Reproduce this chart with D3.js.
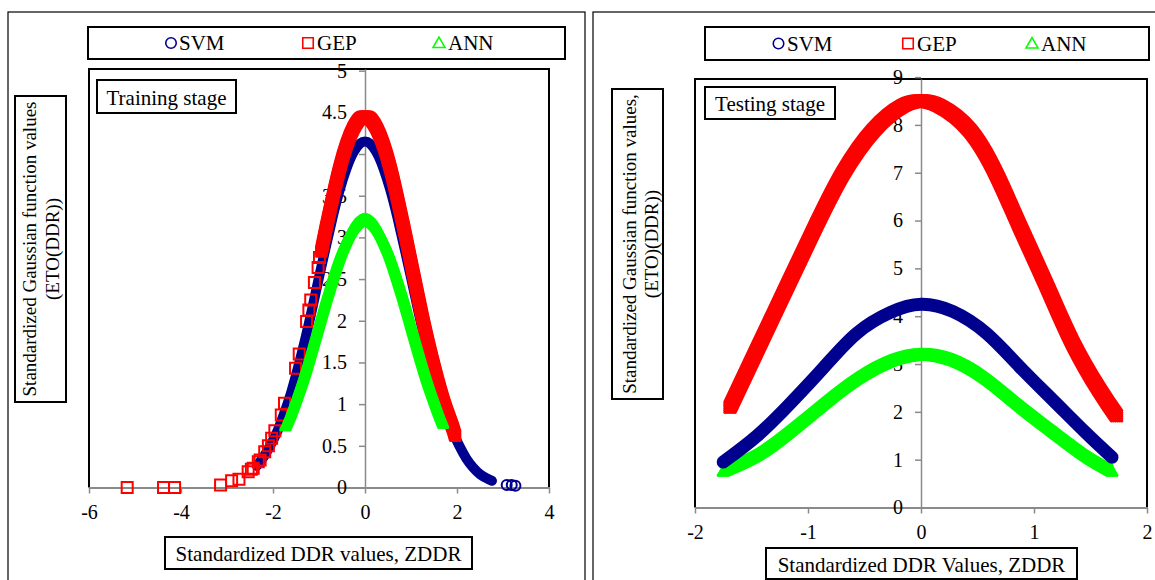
<!DOCTYPE html>
<html><head><meta charset="utf-8">
<script src="https://cdn.jsdelivr.net/npm/d3@7"></script>
<style>
body{margin:0;background:#fff}
svg{display:block}
text{font-family:"Liberation Serif","Times New Roman",serif;fill:#000}
</style>
</head><body>
<svg id="c" width="1155" height="580"></svg>
<script>
// ---------------- data ----------------
const seriesNames = ["SVM", "GEP", "ANN"];
const seriesColors = ["#00008f", "#ff0000", "#00ff00"];

const trainXTicks = [-6, -4, -2, 0, 2, 4];
const trainYTicks = [0, 0.5, 1, 1.5, 2, 2.5, 3, 3.5, 4, 4.5, 5];
const testXTicks = [-2, -1, 0, 1, 2];
const testYTicks = [0, 1, 2, 3, 4, 5, 6, 7, 8, 9];

// Training stage
const svmTrainZ = [-2.35,-2.2,-2.05,-1.9,-1.75,-1.6,-1.45,-1.3,-1.15,-1.0,-0.85,-0.7,-0.55,-0.4,-0.25,-0.1,0,0.1,0.25,0.4,0.55,0.7,0.85,1.0,1.15,1.3,1.45,1.6,1.75,1.9,2.05,2.2,2.35,2.5,2.65,2.76];
const svmTrainV = [0.26,0.37,0.51,0.68,0.90,1.15,1.45,1.78,2.14,2.52,2.89,3.25,3.57,3.83,4.02,4.13,4.15,4.13,4.02,3.83,3.57,3.25,2.89,2.52,2.14,1.78,1.45,1.15,0.90,0.68,0.50,0.35,0.24,0.16,0.11,0.08];
const svmTrainTailZ = [3.08, 3.19, 3.27];
const svmTrainTailV = [0.03, 0.03, 0.02];

const gepTrainZ = [-0.95,-0.85,-0.7,-0.55,-0.4,-0.25,-0.1,0,0.1,0.25,0.4,0.55,0.7,0.85,1.0,1.15,1.3,1.45,1.6,1.75,1.9,1.96];
const gepTrainV = [2.83,3.10,3.48,3.83,4.11,4.31,4.43,4.45,4.43,4.31,4.11,3.83,3.48,3.10,2.70,2.30,1.91,1.56,1.24,0.96,0.73,0.62];
const gepTrainDotZ = [-5.17,-4.38,-4.14,-3.14,-2.9,-2.74,-2.54,-2.47,-2.43,-2.32,-2.28,-2.18,-2.1,-2.03,-1.96,-1.82,-1.75,-1.51,-1.43,-1.27,-1.22,-1.18,-1.1,-1.02,-0.99];
const gepTrainDotV = [0,0,0,0.03,0.08,0.10,0.19,0.22,0.23,0.31,0.33,0.43,0.50,0.59,0.68,0.87,1.01,1.43,1.60,1.99,2.13,2.25,2.46,2.64,2.76];

const annTrainZ = [-1.73,-1.6,-1.45,-1.3,-1.15,-1.0,-0.85,-0.7,-0.55,-0.4,-0.25,-0.1,0,0.1,0.25,0.4,0.55,0.7,0.85,1.0,1.15,1.3,1.45,1.6,1.7];
const annTrainV = [0.72,0.89,1.12,1.37,1.65,1.94,2.23,2.50,2.75,2.95,3.10,3.18,3.20,3.18,3.10,2.95,2.75,2.50,2.23,1.94,1.65,1.37,1.12,0.89,0.75];

// Testing stage
const svmTestZ = [-1.75,-1.45,-1.16,-0.86,-0.57,-0.27,0,0.28,0.58,0.87,1.17,1.46,1.69];
const svmTestV = [0.95,1.50,2.17,2.93,3.64,4.08,4.25,4.10,3.64,2.95,2.24,1.56,1.05];
const gepTestZ = [-1.69,-1.45,-1.16,-0.92,-0.69,-0.42,-0.16,0,0.16,0.43,0.67,0.87,1.11,1.34,1.58,1.73];
const gepTestV = [2.1,3.30,4.75,5.94,6.99,7.89,8.40,8.50,8.40,7.89,6.95,5.90,4.65,3.45,2.45,1.92];
const annTestZ = [-1.75,-1.45,-1.16,-0.86,-0.57,-0.27,0,0.28,0.58,0.87,1.17,1.46,1.69];
const annTestV = [0.73,1.07,1.57,2.15,2.66,3.03,3.16,3.05,2.66,2.11,1.56,1.05,0.73];

// ---------------- drawing ----------------
const svg = d3.select("#c");
const AXIS_GRAY = "#8a8a8a";

function shapeOffsets(shape, size, t) {
  const offs = [];
  if (shape === "square") {
    const a = (size - t) / 2, n = 6;
    for (let i = 0; i < n; i++) for (let j = 0; j < n; j++)
      offs.push([-a + 2 * a * i / (n - 1), -a + 2 * a * j / (n - 1)]);
  } else if (shape === "triangle") {
    const h = size * Math.sqrt(3) / 2;
    const top = -2 * h / 3 + t / 2, bot = h / 3 - t / 2, rows = 6;
    for (let r = 0; r < rows; r++) {
      const yy = top + (bot - top) * r / (rows - 1);
      const half = Math.max(0, ((yy + 2 * h / 3) / h) * size / 2 - t / 2);
      const n = Math.max(1, Math.ceil(2 * half / 2.2) + 1);
      for (let k = 0; k < n; k++) offs.push([n === 1 ? 0 : -half + 2 * half * k / (n - 1), yy]);
    }
  }
  return offs;
}

function band(g, pts, x, y, shape, size, color) {
  const line = d3.line().x(d => x(d[0])).y(d => y(d[1])).curve(d3.curveNatural);
  const d = line(pts);
  if (shape === "circle") {
    g.append("path").attr("d", d).attr("fill", "none").attr("stroke", color)
      .attr("stroke-width", size).attr("stroke-linecap", "round").attr("stroke-linejoin", "round");
    return;
  }
  const t = 3.2;
  g.append("g").selectAll("path").data(shapeOffsets(shape, size, t)).join("path")
    .attr("d", d).attr("transform", o => `translate(${o[0]},${o[1]})`)
    .attr("fill", "none").attr("stroke", color).attr("stroke-width", t)
    .attr("stroke-linecap", "round").attr("stroke-linejoin", "round");
}

function markerPath(shape, size) {
  if (shape === "circle") return d3.symbol(d3.symbolCircle, Math.PI * size * size / 4)();
  if (shape === "square") return d3.symbol(d3.symbolSquare, size * size)();
  const h = size * Math.sqrt(3) / 2;
  return `M0,${-2*h/3}L${size/2},${h/3}L${-size/2},${h/3}Z`;
}

function hollowMarkers(g, pts, x, y, shape, size, color, sw) {
  g.append("g").selectAll("path").data(pts).join("path")
    .attr("d", markerPath(shape, size))
    .attr("transform", d => `translate(${x(d[0])},${y(d[1])})`)
    .attr("fill", "none").attr("stroke", color).attr("stroke-width", sw);
}

function boxText(g, bx, by, bw, bh, txt, size, tx, ty, anchor) {
  g.append("rect").attr("x", bx).attr("y", by).attr("width", bw).attr("height", bh)
    .attr("fill", "#fff").attr("stroke", "#000").attr("stroke-width", 2);
  g.append("text").attr("x", tx).attr("y", ty).attr("font-size", size)
    .attr("text-anchor", anchor).attr("dominant-baseline", "central").text(txt);
}

function panel(cfg) {
  const g = svg.append("g");
  g.append("rect").attr("x", cfg.outer[0]).attr("y", cfg.outer[1]).attr("width", cfg.outer[2]).attr("height", 700)
    .attr("fill", "none").attr("stroke", "#000").attr("stroke-width", 1.2);

  const x = d3.scaleLinear().domain(cfg.xDom).range([cfg.plot[0], cfg.plot[1]]);
  const y = d3.scaleLinear().domain(cfg.yDom).range([cfg.plot[3], cfg.plot[2]]);

  g.append("path")
    .attr("d", `M${cfg.plot[0]},${cfg.plot[3]}V${cfg.plot[2]}H${cfg.plot[1]}V${cfg.plot[3]}`)
    .attr("fill", "none").attr("stroke", "#000").attr("stroke-width", 2);

  const xa = g.append("g").attr("transform", `translate(0,${y(0)})`)
    .call(d3.axisBottom(x).tickValues(cfg.xTicks).tickFormat(d => String(d))
      .tickSize(6).tickSizeOuter(0).tickPadding(11));
  xa.select(".domain").attr("stroke", AXIS_GRAY).attr("stroke-width", 2);
  xa.selectAll(".tick line").attr("stroke", AXIS_GRAY).attr("stroke-width", 1.5);
  xa.selectAll(".tick text").attr("font-size", 20).attr("fill", "#000");
  xa.attr("font-family", null);

  const ya = g.append("g").attr("transform", `translate(${x(0)},0)`)
    .call(d3.axisLeft(y).tickValues(cfg.yTicks).tickFormat(d => String(d))
      .tickSize(6).tickSizeOuter(0).tickPadding(12));
  ya.select(".domain").attr("stroke", AXIS_GRAY).attr("stroke-width", 1.5);
  ya.selectAll(".tick line").attr("stroke", AXIS_GRAY).attr("stroke-width", 1.5);
  ya.selectAll(".tick text").attr("font-size", 20).attr("fill", "#000");
  ya.attr("font-family", null);

  const sg = g.append("g");
  cfg.draw(sg, x, y);

  const L = cfg.legend;
  g.append("rect").attr("x", L.box[0]).attr("y", L.box[1]).attr("width", L.box[2]).attr("height", L.box[3])
    .attr("fill", "#fff").attr("stroke", "#000").attr("stroke-width", 2);
  const shapes = ["circle", "square", "triangle"];
  seriesNames.forEach((nm, i) => {
    const cx = L.mx[i], cy = L.box[1] + L.box[3] / 2;
    g.append("path").attr("d", markerPath(shapes[i], shapes[i] === "triangle" ? 12 : 10.5))
      .attr("transform", `translate(${cx},${cy + (shapes[i] === "triangle" ? 1 : 0)})`)
      .attr("fill", "none").attr("stroke", seriesColors[i]).attr("stroke-width", 1.6);
    g.append("text").attr("x", L.tx[i]).attr("y", cy).attr("dominant-baseline", "central")
      .attr("font-size", 21).text(nm);
  });

  const S = cfg.stage;
  boxText(g, S.box[0], S.box[1], S.box[2], S.box[3], S.text, 21, S.box[0] + S.box[2] / 2, S.box[1] + S.box[3] / 2 + 1, "middle");

  const X = cfg.xlab;
  boxText(g, X.box[0], X.box[1], X.box[2], X.box[3], X.text, 21, X.box[0] + X.box[2] / 2, X.box[1] + X.box[3] / 2 + 1, "middle");

  const Y = cfg.ylab;
  g.append("rect").attr("x", Y.box[0]).attr("y", Y.box[1]).attr("width", Y.box[2]).attr("height", Y.box[3])
    .attr("fill", "#fff").attr("stroke", "#000").attr("stroke-width", 2);
  const cy = Y.box[1] + Y.box[3] / 2;
  Y.lines.forEach((ln, i) => {
    g.append("text").attr("transform", `translate(${Y.lx[i]},${cy}) rotate(-90)`)
      .attr("text-anchor", "middle").attr("dominant-baseline", "central")
      .attr("font-size", 19).text(ln);
  });
}

const zip = (a, b) => a.map((v, i) => [v, b[i]]);

panel({
  outer: [8, 12, 577],
  plot: [89, 549, 69, 487.5],
  xDom: [-6, 4], yDom: [0, 5.02],
  xTicks: trainXTicks, yTicks: trainYTicks,
  legend: { box: [88, 27, 477, 32], mx: [171, 308, 439], tx: [179, 317, 448] },
  stage: { box: [97, 80, 139, 33], text: "Training stage" },
  xlab: { box: [165, 537, 307, 32], text: "Standardized DDR values, ZDDR" },
  ylab: { box: [15, 96, 51, 306], lx: [29, 52], lines: ["Standardized Gaussian function values", "(ETO(DDR))"] },
  draw: (g, x, y) => {
    band(g, zip(svmTrainZ, svmTrainV), x, y, "circle", 10, seriesColors[0]);
    hollowMarkers(g, zip(svmTrainTailZ, svmTrainTailV), x, y, "circle", 10, seriesColors[0], 2);
    band(g, zip(gepTrainZ, gepTrainV), x, y, "square", 12.5, seriesColors[1]);
    hollowMarkers(g, zip(gepTrainDotZ, gepTrainDotV), x, y, "square", 11, seriesColors[1], 2);
    band(g, zip(annTrainZ, annTrainV), x, y, "triangle", 14, seriesColors[2]);
  }
});

panel({
  outer: [593, 12, 700],
  plot: [695, 1147, 79, 507.5],
  xDom: [-2, 2], yDom: [0, 8.96],
  xTicks: testXTicks, yTicks: testYTicks,
  legend: { box: [705, 27, 444, 33], mx: [778.5, 908, 1032], tx: [787, 917, 1041] },
  stage: { box: [705, 87, 130, 32], text: "Testing stage" },
  xlab: { box: [766, 548, 311, 31], text: "Standardized DDR Values, ZDDR" },
  ylab: { box: [612, 89, 51, 310], lx: [629, 651], lines: ["Standardized Gaussian function values,", "(ETO)(DDR))"] },
  draw: (g, x, y) => {
    band(g, zip(annTestZ, annTestV), x, y, "triangle", 15, seriesColors[2]);
    band(g, zip(gepTestZ, gepTestV), x, y, "square", 13.5, seriesColors[1]);
    band(g, zip(svmTestZ, svmTestV), x, y, "circle", 13, seriesColors[0]);
  }
});
</script>
</body></html>
